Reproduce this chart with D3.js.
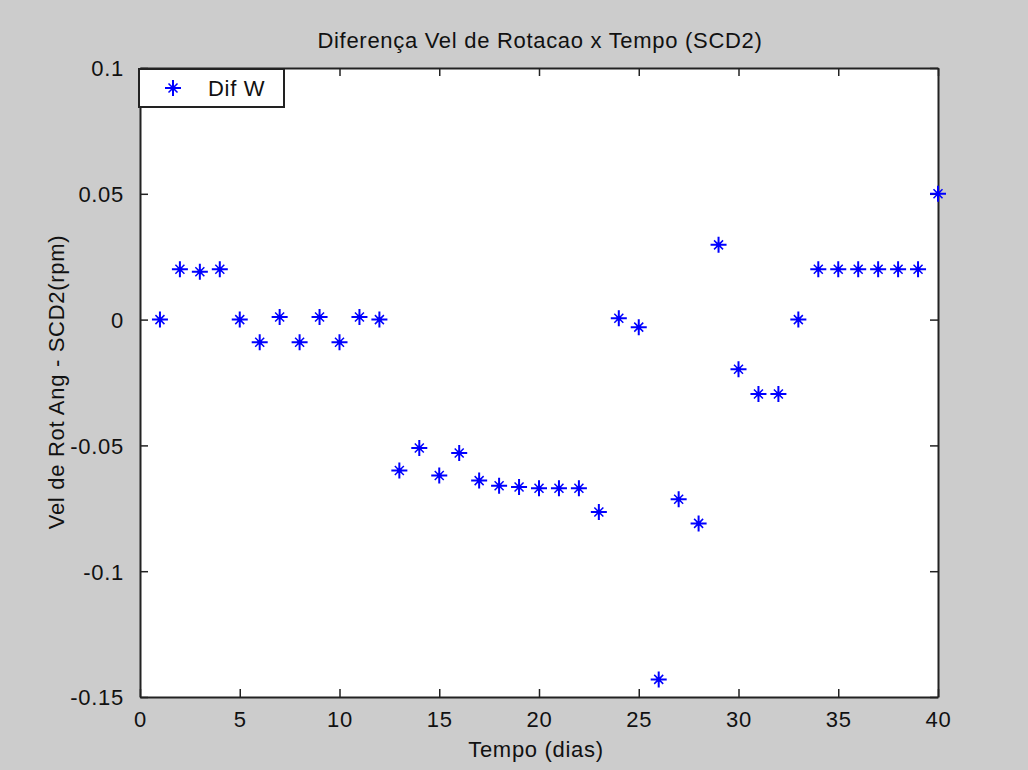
<!DOCTYPE html>
<html>
<head>
<meta charset="utf-8">
<script src="https://cdn.jsdelivr.net/npm/d3@7"></script>
<style>
html,body{margin:0;padding:0;background:#cccccc;}
text{font-family:"Liberation Sans",Arial,Helvetica,sans-serif;fill:#111;}
</style>
</head>
<body>
<svg id="chart" width="1028" height="770"></svg>
<script>
const days = d3.range(1, 41);
const difW = [0, 0.020, 0.019, 0.020, 0, -0.009, 0.001, -0.009, 0.001, -0.009,
  0.001, 0, -0.060, -0.051, -0.062, -0.053, -0.064, -0.066, -0.0665, -0.067,
  -0.067, -0.067, -0.0765, 0.0005, -0.003, -0.143, -0.0714, -0.081, 0.0297, -0.0197,
  -0.0296, -0.0296, 0, 0.020, 0.020, 0.020, 0.020, 0.020, 0.020, 0.050];
const xTicks = [0, 5, 10, 15, 20, 25, 30, 35, 40];
const yTicks = [-0.15, -0.1, -0.05, 0, 0.05, 0.1];
const yTickLabels = ["-0.15", "-0.1", "-0.05", "0", "0.05", "0.1"];
const titleText = "Diferença Vel de Rotacao x Tempo (SCD2)";
const xLabel = "Tempo (dias)";
const yLabel = "Vel de Rot Ang - SCD2(rpm)";
const legendLabel = "Dif W";

const svg = d3.select("#chart");
const L = 140, R = 938, T = 68, B = 697;
const x = d3.scaleLinear().domain([0, 40]).range([L, R]);
const y = d3.scaleLinear().domain([-0.15, 0.1]).range([B, T]);
const fs = 22;
const ls = "0.7px";

svg.append("rect").attr("x", L).attr("y", T).attr("width", R - L).attr("height", B - T).attr("fill", "#fff");

const tl = 8;
const g = svg.append("g");
const xb = g.append("g").attr("transform", `translate(0,${B})`)
  .call(d3.axisBottom(x).tickValues(xTicks).tickSizeInner(-tl).tickSizeOuter(0).tickPadding(14).tickFormat(d3.format("d")));
const xt = g.append("g").attr("transform", `translate(0,${T})`)
  .call(d3.axisTop(x).tickValues(xTicks).tickSizeInner(-tl).tickSizeOuter(0).tickFormat(""));
const yl = g.append("g").attr("transform", `translate(${L},0)`)
  .call(d3.axisLeft(y).tickValues(yTicks).tickSizeInner(-tl).tickSizeOuter(0).tickPadding(16).tickFormat((d, i) => yTickLabels[i]));
const yr = g.append("g").attr("transform", `translate(${R},0)`)
  .call(d3.axisRight(y).tickValues(yTicks).tickSizeInner(-tl).tickSizeOuter(0).tickFormat(""));
[xb, xt, yl, yr].forEach(a => {
  a.select(".domain").attr("stroke", "#222").attr("stroke-width", 2);
  a.selectAll(".tick line").attr("stroke", "#222").attr("stroke-width", 1.5);
  a.selectAll("text").style("font-size", fs + "px").attr("fill", "#111")
   .style("letter-spacing", ls)
   .style("font-family", '"Liberation Sans",Arial,sans-serif');
});
xb.selectAll("text").attr("dy", "0.71em");
yl.selectAll("text").attr("dy", "0.36em");

function star(sel) {
  const a = 8, b = 4.5;
  sel.append("path").attr("d", `M${-a},0H${a}M0,${-a}V${a}`)
    .attr("stroke", "#0000ff").attr("stroke-width", 2).attr("fill", "none");
  sel.append("path").attr("d", `M${-b},${-b}L${b},${b}M${-b},${b}L${b},${-b}`)
    .attr("stroke", "#0000ff").attr("stroke-width", 1.5).attr("fill", "none");
  sel.append("circle").attr("r", 2.5).attr("fill", "#0000ff");
}
const pts = svg.append("g").selectAll("g").data(days.map((d, i) => [d, difW[i]])).join("g")
  .attr("transform", d => `translate(${x(d[0])},${y(d[1])})`);
pts.each(function() { star(d3.select(this)); });

const lg = svg.append("g");
lg.append("rect").attr("x", 139).attr("y", 69).attr("width", 145).attr("height", 38)
  .attr("fill", "#fff").attr("stroke", "#222").attr("stroke-width", 2);
const lm = lg.append("g").attr("transform", "translate(173,88)");
star(lm);
lg.append("text").attr("x", 208).attr("y", 88).attr("dy", "0.36em").style("font-size", fs + "px").style("letter-spacing", ls).text(legendLabel);

svg.append("text").attr("x", 540).attr("y", 48).attr("text-anchor", "middle").style("font-size", fs + "px").style("letter-spacing", ls).text(titleText);
svg.append("text").attr("x", 536).attr("y", 757).attr("text-anchor", "middle").style("font-size", fs + "px").style("letter-spacing", ls).text(xLabel);
svg.append("text").attr("transform", "translate(64,382) rotate(-90)").attr("text-anchor", "middle").style("font-size", fs + "px").style("letter-spacing", ls).text(yLabel);
</script>
</body>
</html>
